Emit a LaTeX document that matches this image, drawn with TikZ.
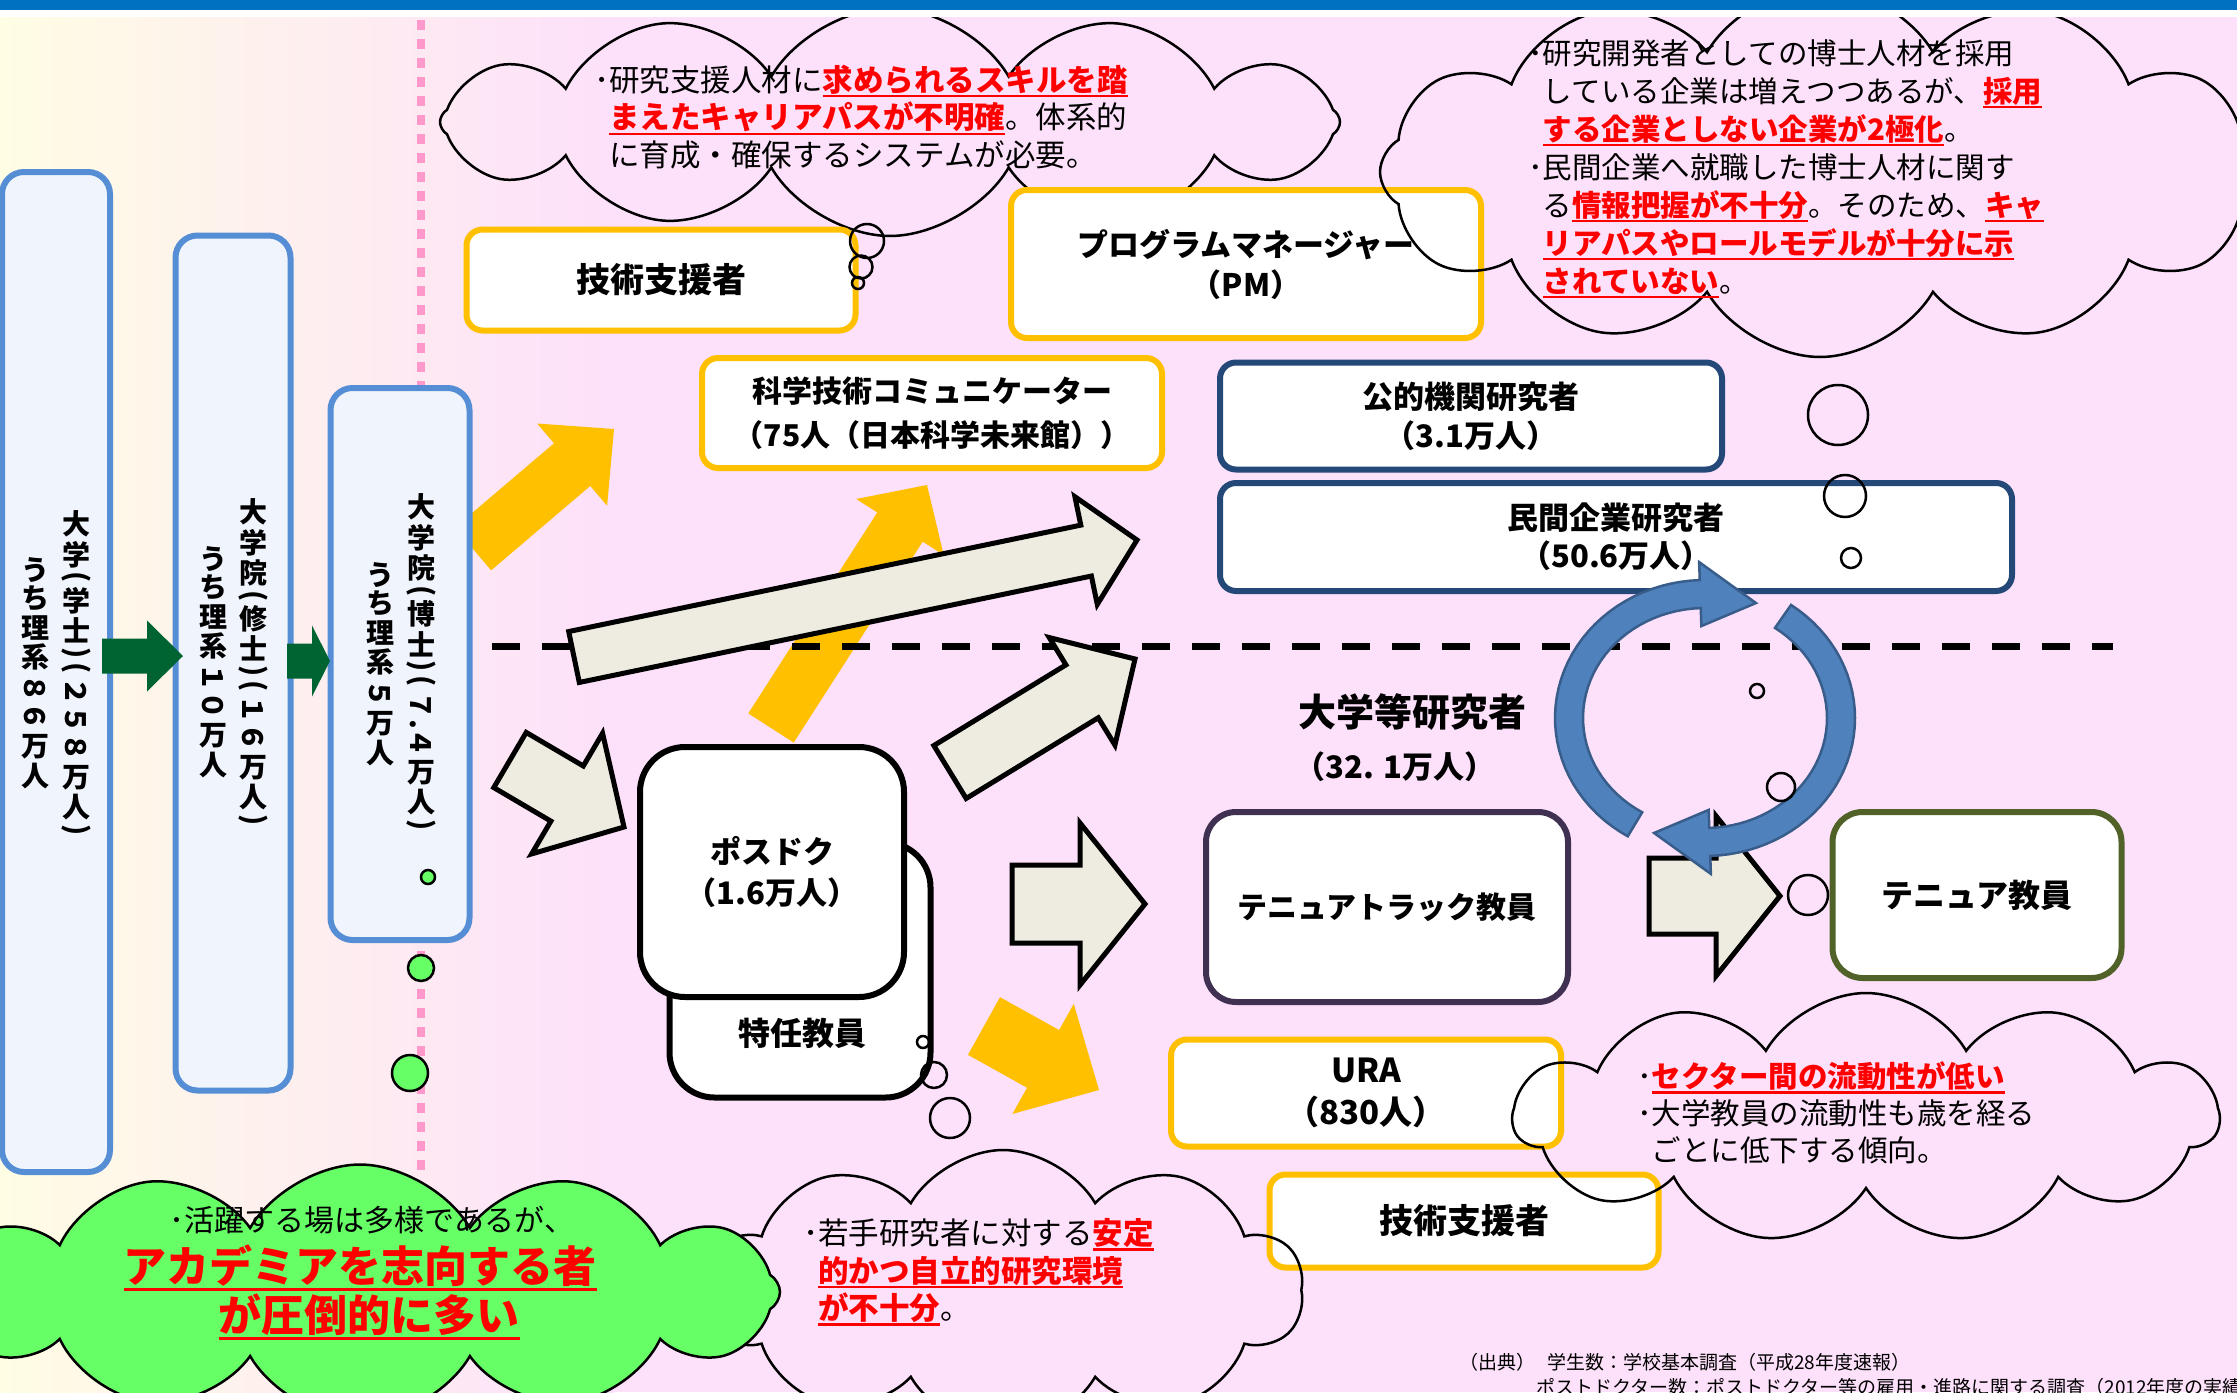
\documentclass[tikz,border=0pt]{standalone}
\usepackage{fontspec}
\usepackage{graphicx}
\setmainfont{Noto Sans CJK JP}
\usetikzlibrary{calc,shapes.symbols}

\definecolor{bgpink}{RGB}{253,224,250}
\definecolor{bgcream}{RGB}{255,253,228}
\definecolor{topblue}{RGB}{0,112,192}
\definecolor{orng}{RGB}{255,192,0}
\definecolor{navy}{RGB}{36,72,120}
\definecolor{lblue}{RGB}{85,142,213}
\definecolor{lfill}{RGB}{240,244,252}
\definecolor{greyfill}{RGB}{238,236,225}
\definecolor{dgreen}{RGB}{0,100,50}
\definecolor{ttpurple}{RGB}{64,49,82}
\definecolor{olive}{RGB}{80,98,40}
\definecolor{arrblue}{RGB}{79,129,189}
\definecolor{arrblueD}{RGB}{56,93,138}
\definecolor{cgreen}{RGB}{102,255,102}
\definecolor{dotpink}{RGB}{255,153,204}
\definecolor{ured}{RGB}{255,0,0}

\newcommand\lblfont[2]{\fontsize{#1}{#2}\selectfont\bfseries}
\newcommand\redul[1]{{\color{ured}\bfseries\setbox0=\hbox{#1}\rlap{\rule[-0.2em]{\wd0}{0.075em}}\box0}}
\newcommand\vp{\rotatebox{-90}{(}}
\newcommand\vq{\rotatebox{-90}{)}}
\newcommand\vn[1]{\rotatebox{-90}{#1}}
\newcommand\blockarrow[6]{%
  \coordinate (bah) at ($(#3)!#6!(#2)$);
  \path[#1] ($(#2)!#4!90:(#3)$) -- ($(bah)!#4!90:(#3)$) -- ($(bah)!#5!90:(#3)$) -- (#3)
    -- ($(bah)!#5!-90:(#3)$) -- ($(bah)!#4!-90:(#3)$) -- ($(#2)!#4!-90:(#3)$) -- cycle;}

\tikzset{
  rbox/.style={draw=#1, line width=6pt, fill=white, rounded corners=16pt, inner sep=0pt, align=center},
  lbox/.style={draw=lblue, line width=6pt, fill=lfill, rounded corners=22pt, inner sep=0pt},
  vcol/.style={font={\fontsize{28}{0}\selectfont\bfseries\lineskip=4pt\lineskiplimit=0pt}, align=center, inner sep=0pt},
  cloudsh/.style={cloud, cloud puffs=#1, cloud puff arc=120, cloud ignores aspect, draw=black, line width=2.5pt, inner sep=0pt},
  ctext/.style={font=\fontsize{30}{37.5}\selectfont, align=left, inner sep=0pt, anchor=west},
  oarrow/.style={fill=orng, draw=none},
  garrow/.style={fill=greyfill, draw=black, line width=5pt, line join=miter},
  dgarrow/.style={fill=dgreen, draw=none},
  bluearr/.style={fill=arrblue, draw=arrblueD, line width=2.5pt, line join=miter},
  bubst/.style={draw=black, line width=2.5pt},
  gbub/.style={draw=black, line width=2.5pt, fill=cgreen}
}

\begin{document}
\begin{tikzpicture}[x=1pt,y=-1pt]
\useasboundingbox (0,0) rectangle (2237,1392);
% background
\shade[left color=bgcream, right color=bgpink] (0,0) rectangle (614,1392);
\fill[bgpink] (612,0) rectangle (2237,1392);
\draw[dotpink, line width=8pt, dash pattern=on 10pt off 9pt] (421,20) -- (421,1170);

% top-left cloud
\node[cloudsh=12, minimum width=900pt, minimum height=228pt] (cl1) at (890,122) {};

% upper boxes
\node[rbox=orng, minimum width=389pt, minimum height=101pt, font=\lblfont{34}{40}] (tech1) at (661,280) {技術支援者};
\node[rbox=orng, minimum width=470pt, minimum height=148pt, font=\lblfont{31}{40}] (pm) at (1246,264) {プログラムマネージャー\\（PM）};
\node[rbox=orng, minimum width=460pt, minimum height=110pt, font=\lblfont{30}{44}] (sci) at (932,413) {科学技術コミュニケーター\\（75人（日本科学未来館））};
\node[rbox=navy, minimum width=502pt, minimum height=107pt, font=\lblfont{31}{39}] (pub) at (1471,416) {公的機関研究者\\（3.1万人）};
\node[rbox=navy, minimum width=792pt, minimum height=108pt, font=\lblfont{31}{38}] (priv) at (1616,537) {民間企業研究者\\（50.6万人）};

% top-right cloud
\node[cloudsh=12, minimum width=880pt, minimum height=370pt] (cl2) at (1820,172) {};

% orange arrows
\coordinate (o1a) at (473,549); \coordinate (o1b) at (614,429);
\coordinate (o2a) at (771,728); \coordinate (o2b) at (927,485);
\coordinate (o3a) at (984,1026); \coordinate (o3b) at (1099,1090);
\blockarrow{oarrow}{o1a}{o1b}{28pt}{54pt}{55pt}
\blockarrow{oarrow}{o2a}{o2b}{27pt}{52pt}{50pt}
\blockarrow{oarrow}{o3a}{o3b}{33pt}{63pt}{64pt}

% left boxes
\node[lbox, minimum width=108pt, minimum height=1000pt] (box1) at (56,672) {};
\node[lbox, minimum width=115pt, minimum height=855pt] (box2) at (233,663) {};
\node[lbox, minimum width=139pt, minimum height=552pt] (box3) at (400,664) {};
\node[vcol] (b1r) at (76,673) {大\\学\\\vp\\学\\士\\\vq\\\vp\\\vn{２５８}\\万\\人\\\vq};
\node[vcol] (b1l) at (35,673) {う\\ち\\理\\系\\\vn{８６}\\万\\人};
\node[vcol] (b2r) at (253,662) {大\\学\\院\\\vp\\修\\士\\\vq\\\vp\\\vn{１６}\\万\\人\\\vq};
\node[vcol] (b2l) at (213,662) {う\\ち\\理\\系\\\vn{１０}\\万\\人};
\node[vcol] (b3r) at (421,662) {大\\学\\院\\\vp\\博\\士\\\vq\\\vp\\\vn{７.４}\\万\\人\\\vq};
\node[vcol] (b3l) at (380,664) {う\\ち\\理\\系\\\vn{５}\\万\\人};

% dashed divider
\coordinate (dashL) at (492,646); \coordinate (dashR) at (2113,646);
\draw[black, line width=7pt, dash pattern=on 28pt off 22pt] (dashL) -- (dashR);

% lower boxes
\node[rbox=black, rounded corners=45pt, minimum width=261pt, minimum height=255pt] (tokunin) at (800,970) {};
\node[font=\lblfont{32}{38}] (tokunintx) at (802,1033) {特任教員};
\node[rbox=black, rounded corners=45pt, minimum width=264pt, minimum height=250pt, font=\lblfont{31}{41}] (postdoc) at (772,872) {ポスドク\\（1.6万人）};
\node[rbox=ttpurple, rounded corners=30pt, minimum width=362pt, minimum height=190pt, font=\lblfont{30}{38}] (ttrack) at (1387,907) {テニュアトラック教員};
\node[rbox=olive, rounded corners=30pt, minimum width=289pt, minimum height=166pt, font=\lblfont{32}{38}] (tenure) at (1977,895) {テニュア教員};
\node[rbox=orng, minimum width=390pt, minimum height=107pt, font=\lblfont{33}{42}] (ura) at (1366,1093) {URA\\（830人）};
\node[rbox=orng, minimum width=389pt, minimum height=93pt, font=\lblfont{34}{40}] (tech2) at (1464,1221) {技術支援者};

\node[font=\lblfont{38}{44}] (univ) at (1412,712) {大学等研究者};
\node[font=\lblfont{31}{38}] (univnum) at (1395,767) {（32. 1万人）};

% grey arrows
\coordinate (g1a) at (574,657); \coordinate (g1b) at (1137,540);
\coordinate (g2a) at (510,760); \coordinate (g2b) at (624,827);
\coordinate (g3a) at (950,772); \coordinate (g3b) at (1135,659);
\coordinate (g4a) at (1012,904); \coordinate (g4b) at (1145,904);
\coordinate (g5a) at (1649,896); \coordinate (g5b) at (1780,896);
\blockarrow{garrow}{g1a}{g1b}{26pt}{55pt}{52pt}
\blockarrow{garrow}{g2a}{g2b}{32pt}{70pt}{66pt}
\blockarrow{garrow}{g3a}{g3b}{31pt}{63pt}{62pt}
\blockarrow{garrow}{g4a}{g4b}{39pt}{81pt}{65pt}
\blockarrow{garrow}{g5a}{g5b}{38pt}{80pt}{64pt}

% green arrows
\coordinate (ga1a) at (102,656); \coordinate (ga1b) at (183,656);
\coordinate (ga2a) at (287,661); \coordinate (ga2b) at (330,661);
\blockarrow{dgarrow}{ga1a}{ga1b}{17.5pt}{35.5pt}{36pt}
\blockarrow{dgarrow}{ga2a}{ga2b}{17.5pt}{35.5pt}{18pt}

% blue circular arrows
\filldraw[bluearr] plot[domain=121:268,samples=40] ({1705+150*cos(\x)},{718+138*sin(\x)})
  -- ({1705+168*cos(268)},{718+156*sin(268)}) -- ({1705+136*cos(292)},{718+124*sin(292)})
  -- ({1705+104*cos(268)},{718+92*sin(268)})
  -- plot[domain=268:121,samples=40] ({1705+122*cos(\x)},{718+110*sin(\x)}) -- cycle;
\filldraw[bluearr] plot[domain=305:448,samples=40] ({1705+150*cos(\x)},{718+138*sin(\x)})
  -- ({1705+168*cos(448)},{718+156*sin(448)}) -- ({1705+136*cos(472)},{718+124*sin(472)})
  -- ({1705+104*cos(448)},{718+92*sin(448)})
  -- plot[domain=448:305,samples=40] ({1705+122*cos(\x)},{718+110*sin(\x)}) -- cycle;

% lower clouds
\node[cloudsh=11, minimum width=705pt, minimum height=250pt] (cl3) at (1866,1118) {};
\node[cloudsh=10, minimum width=600pt, minimum height=280pt] (cl5) at (1003,1290) {};
\node[cloudsh=12, fill=cgreen, minimum width=840pt, minimum height=255pt] (cl4) at (360,1292) {};

% cloud texts
\node[ctext, font=\fontsize{30.5}{37.5}\selectfont] (t1) at (594,117) {･研究支援人材に\redul{求められるスキルを踏}\\\phantom{･}\redul{まえたキャリアパスが不明確}。体系的\\\phantom{･}に育成・確保するシステムが必要。};
\node[ctext, font=\fontsize{29.5}{38}\selectfont] (t2) at (1528,169) {･研究開発者としての博士人材を採用\\\phantom{･}している企業は増えつつあるが、\redul{採用}\\\phantom{･}\redul{する企業としない企業が2極化}。\\･民間企業へ就職した博士人材に関す\\\phantom{･}る\redul{情報把握が不十分}。そのため、\redul{キャ}\\\phantom{･}\redul{リアパスやロールモデルが十分に示}\\\phantom{･}\redul{されていない}。};
\node[ctext, font=\fontsize{29.5}{37}\selectfont] (t3) at (1637,1113) {･\redul{セクター間の流動性が低い}\\･大学教員の流動性も歳を経る\\\phantom{･}ごとに低下する傾向。};
\node[ctext, font=\fontsize{30.5}{37.5}\selectfont] (t5) at (803,1272) {･若手研究者に対する\redul{安定}\\\phantom{･}\redul{的かつ自立的研究環境}\\\phantom{･}\redul{が不十分}。};
\node[font=\fontsize{30}{36}\selectfont, inner sep=0pt] (gt1) at (372,1220) {･活躍する場は多様であるが、};
\node[font=\fontsize{43}{50}\selectfont, inner sep=0pt] (gt2) at (360,1268) {\redul{アカデミアを志向する者}};
\node[font=\fontsize{43}{50}\selectfont, inner sep=0pt] (gt3) at (369,1317) {\redul{が圧倒的に多い}};

% thought bubbles
\draw[bubst] (867,241) circle[radius=17] (861,267) circle[radius=11.5] (858,283) circle[radius=6];
\draw[bubst] (1838,415) circle[radius=30] (1845,496) circle[radius=21] (1851,558) circle[radius=10];
\draw[bubst] (1757,691) circle[radius=7] (1781,787) circle[radius=14] (1808,895) circle[radius=20];
\draw[bubst] (923,1042) circle[radius=6] (934,1075) circle[radius=13] (950,1118) circle[radius=20];
\filldraw[gbub] (428,877) circle[radius=7] (421,968) circle[radius=13] (410,1073) circle[radius=18];

% citation
\node[anchor=west, inner sep=0pt, font=\fontsize{19}{22}\selectfont] (cite1) at (1459,1362) {（出典）\hspace{12pt}学生数：学校基本調査（平成28年度速報）};
\node[anchor=west, inner sep=0pt, font=\fontsize{19}{22}\selectfont] (cite2) at (1536,1387) {ポストドクター数：ポストドクター等の雇用・進路に関する調査（2012年度の実績値）};

% top bar
\fill[topblue] (0,0) rectangle (2237,10);
\fill[white] (0,10) rectangle (2237,17);
\end{tikzpicture}
\end{document}
